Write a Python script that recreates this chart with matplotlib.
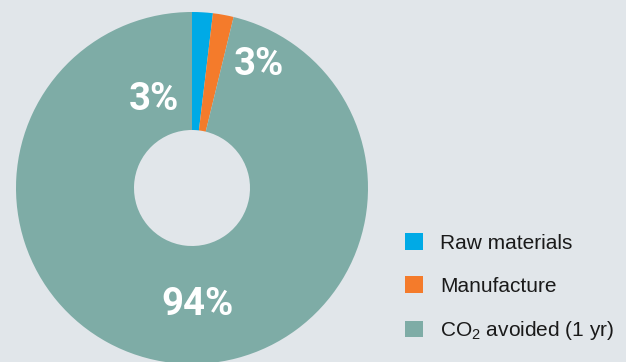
import matplotlib.pyplot as plt

# slice shares as drawn (the printed labels are rounded differently)
names = ["Raw materials", "Manufacture", r"$\mathregular{CO_2}$ avoided (1 yr)"]
shares = [1.9, 1.9, 96.2]
pct_labels = ["3%", "3%", "94%"]
colors = ["#00aae6", "#f47b2b", "#7eaca6"]
bg = "#e1e6ea"

fig = plt.figure(figsize=(6.26, 3.62), dpi=100, facecolor=bg)
ax = fig.add_axes([0, 0, 1, 1])
ax.set_facecolor(bg)

# donut, centre/radius in pixel units of the figure
cx, cy, R = 192, 174, 176
wedges, _ = ax.pie(
    shares,
    colors=colors,
    startangle=90,
    counterclock=False,
    radius=R,
    center=(cx, cy),
    frame=False,
    wedgeprops=dict(width=R - 58, linewidth=0),
)
ax.set_xlim(0, 626)
ax.set_ylim(0, 362)
ax.set_aspect("equal")
ax.axis("off")

# percentage labels (baseline), offsets relative to the radius
label_pos = [(0.381, 0.642), (-0.216, 0.443), (0.034, -0.722)]
for txt, (dx, dy) in zip(pct_labels, label_pos):
    ax.text(cx + dx * R, cy + dy * R, txt, ha="center", va="baseline",
            color="white", fontsize=27.5, fontweight="bold",
            family=["Roboto", "DejaVu Sans"])

ax.legend(
    wedges, names,
    loc="upper left", bbox_to_anchor=(405 / 626, 1 - 233 / 362),
    frameon=False,
    prop={"family": ["Liberation Sans", "DejaVu Sans"], "size": 15},
    handlelength=0.85, handleheight=0.85, handletextpad=0.85,
    labelspacing=1.13, borderaxespad=0, borderpad=0,
    labelcolor="#1a1a1a",
)

fig.savefig("out.png", dpi=100, facecolor=bg)
